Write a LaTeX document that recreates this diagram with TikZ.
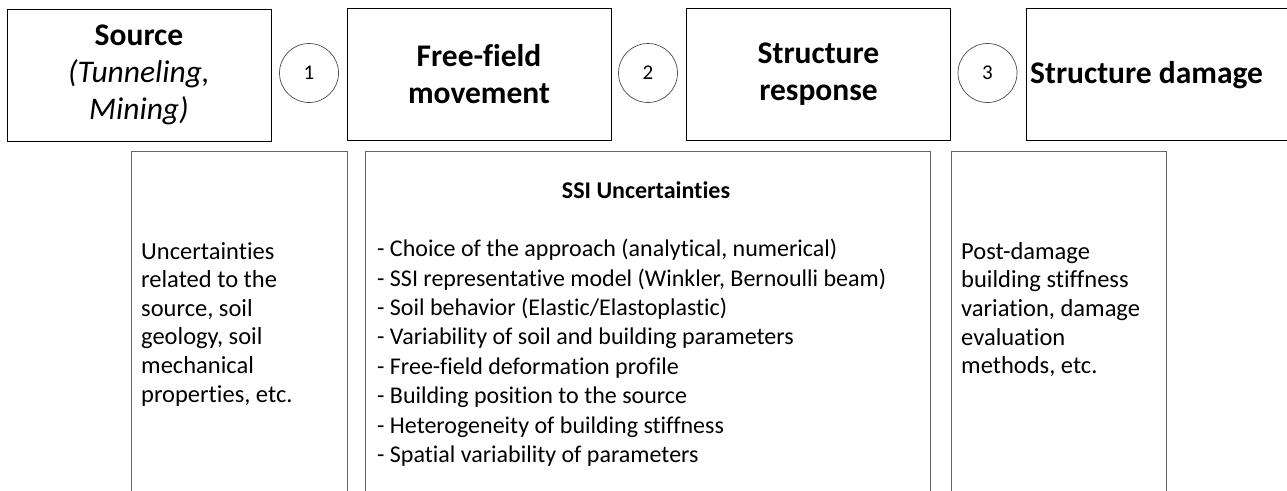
\documentclass[tikz,border=0pt]{standalone}
\usepackage{fontspec}
\setmainfont{Carlito}[Ligatures={NoCommon}]
\begin{document}
\begin{tikzpicture}[x=1pt,y=-1pt,
  topbox/.style={draw=black,line width=1pt,minimum width=264pt,minimum height=132pt,inner sep=0pt,align=center,font=\fontsize{31.5}{37}\selectfont},
  stepnum/.style={circle,draw=black!70,line width=0.7pt,minimum size=59pt,inner sep=0pt,font=\fontsize{21}{25}\selectfont},
  lowbox/.style={draw=black!60,line width=0.9pt,anchor=north west,inner sep=0pt,minimum height=380pt},
  bodytext/.style={anchor=north west,inner sep=0pt,align=left,font=\fontsize{24.5}{28.6}\selectfont}]
\clip (0,0) rectangle (1287,490);
\fill[white] (0,0) rectangle (1287,490);
% top row
\node[topbox] (src) at (139,75) {\textbf{Source}\\\textit{(Tunneling,}\\\textit{Mining)}};
\node[stepnum] (c1) at (309,73) {1};
\node[topbox] (ff) at (479,74) {\textbf{Free-field}\\\textbf{movement}};
\node[stepnum] (c2) at (648,73) {2};
\node[topbox] (sr) at (818.5,74) {\textbf{Structure}\\\textbf{response}};
\node[stepnum] (c3) at (987.5,73) {3};
\node[topbox,minimum width=290pt,anchor=west] (sd) at (1026,74) {};
\node[anchor=base west,inner sep=0pt,font=\fontsize{31.5}{37}\selectfont] (sdt) at (1030,83) {\textbf{Structure damage}};
% bottom row
\node[lowbox,minimum width=216pt] (u1) at (131,151) {};
\node[lowbox,minimum width=565pt] (u2) at (365,151) {};
\node[lowbox,minimum width=215pt] (u3) at (951,151) {};
\node[bodytext] (t1) at (141,242) {Uncertainties\\related to the\\source, soil\\geology, soil\\mechanical\\properties, etc.};
\node[inner sep=0pt,font=\fontsize{24}{29}\selectfont] (ssit) at (646,190) {\textbf{SSI Uncertainties}};
\node[bodytext,font=\fontsize{24}{29.4}\selectfont] (t2) at (377,239) {- Choice of the approach (analytical, numerical)\\
- SSI representative model (Winkler, Bernoulli beam)\\
- Soil behavior (Elastic/Elastoplastic)\\
- Variability of soil and building parameters\\
- Free-field deformation profile\\
- Building position to the source\\
- Heterogeneity of building stiffness\\
- Spatial variability of parameters};
\node[bodytext] (t3) at (961,242) {Post-damage\\building stiffness\\variation, damage\\evaluation\\methods, etc.};
\end{tikzpicture}
\end{document}
